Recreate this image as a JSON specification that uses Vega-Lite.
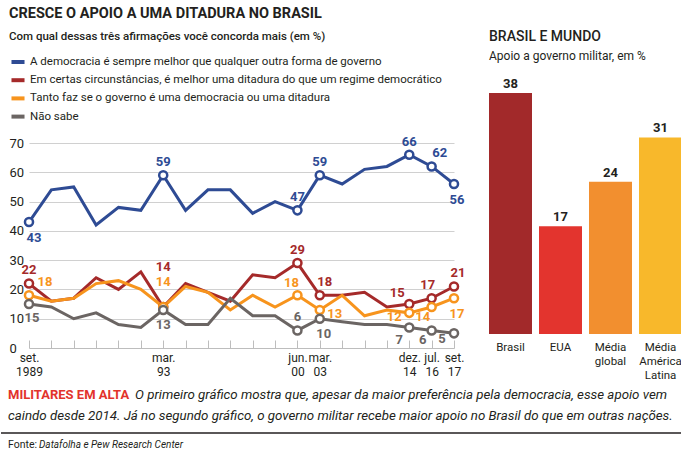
{
  "$schema": "https://vega.github.io/schema/vega-lite/v6.json",
  "background": "white",
  "padding": {"left": 0, "top": 6, "right": 0, "bottom": 0},
  "config": {
    "view": {"stroke": null},
    "font": "Roboto",
    "text": {"font": "Roboto"}
  },
  "spacing": 0,
  "vconcat": [
    {
      "spacing": 23,
      "resolve": {"scale": {"color": "independent"}, "legend": {"color": "independent"}},
      "hconcat": [
        {
          "width": 425,
          "height": 205,
          "title": {
            "text": "CRESCE O APOIO A UMA DITADURA NO BRASIL",
            "subtitle": "Com qual dessas três afirmações você concorda mais (em %)",
            "anchor": "start",
            "font": "Roboto",
            "fontSize": 14.5,
            "fontWeight": "bold",
            "color": "#231f20",
            "subtitleFont": "Roboto",
            "subtitleFontSize": 11.5,
            "subtitleFontWeight": 500,
            "subtitleColor": "#231f20",
            "subtitlePadding": 9,
            "offset": 10
          },
          "data": {
            "values": [
              {"i": 0, "dem": 43, "dit": 22, "tf": 18, "ns": 15},
              {"i": 1, "dem": 54, "dit": 16, "tf": 16, "ns": 14},
              {"i": 2, "dem": 55, "dit": 17, "tf": 17, "ns": 10},
              {"i": 3, "dem": 42, "dit": 24, "tf": 22, "ns": 12},
              {"i": 4, "dem": 48, "dit": 20, "tf": 23, "ns": 8},
              {"i": 5, "dem": 47, "dit": 26, "tf": 20, "ns": 7},
              {"i": 6, "dem": 59, "dit": 14, "tf": 14, "ns": 13},
              {"i": 7, "dem": 47, "dit": 22, "tf": 21, "ns": 8},
              {"i": 8, "dem": 54, "dit": 19, "tf": 19, "ns": 8},
              {"i": 9, "dem": 54, "dit": 16, "tf": 13, "ns": 17},
              {"i": 10, "dem": 46, "dit": 25, "tf": 18, "ns": 11},
              {"i": 11, "dem": 50, "dit": 24, "tf": 14, "ns": 11},
              {"i": 12, "dem": 47, "dit": 29, "tf": 18, "ns": 6},
              {"i": 13, "dem": 59, "dit": 18, "tf": 13, "ns": 10},
              {"i": 14, "dem": 56, "dit": 18, "tf": 18, "ns": 9},
              {"i": 15, "dem": 61, "dit": 19, "tf": 11, "ns": 8},
              {"i": 16, "dem": 62, "dit": 14, "tf": 13, "ns": 8},
              {"i": 17, "dem": 66, "dit": 15, "tf": 12, "ns": 7},
              {"i": 18, "dem": 62, "dit": 17, "tf": 14, "ns": 6},
              {"i": 19, "dem": 56, "dit": 21, "tf": 17, "ns": 5}
            ]
          },
          "transform": [{"fold": ["dem", "dit", "tf", "ns"], "as": ["s", "v"]}],
          "encoding": {
            "x": {
              "field": "i",
              "type": "ordinal",
              "scale": {"type": "point", "padding": 0},
              "axis": {
                "title": null,
                "labelExpr": "datum.value == 0 ? ['set.','1989'] : datum.value == 6 ? ['mar.','93'] : datum.value == 12 ? ['jun.','00'] : datum.value == 13 ? ['mar.','03'] : datum.value == 17 ? ['dez.','14'] : datum.value == 18 ? ['jul.','16'] : datum.value == 19 ? ['set.','17'] : ''",
                "labelAngle": 0,
                "labelFontSize": 12,
                "labelColor": "#231f20",
                "labelLineHeight": 14,
                "labelOverlap": false,
                "labelPadding": 12,
                "tickSize": -8,
                "tickColor": "#bdbdbd",
                "domainColor": "#bdbdbd",
                "grid": false
              }
            },
            "y": {
              "field": "v",
              "type": "quantitative",
              "scale": {"domain": [0, 70]},
              "axis": {
                "title": null,
                "values": [0, 10, 20, 30, 40, 50, 60, 70],
                "labelFontSize": 13,
                "labelColor": "#231f20",
                "labelAlign": "left",
                "labelPadding": 20,
                "ticks": false,
                "domain": false,
                "gridColor": "#d0d0d0",
                "gridOpacity": {"condition": {"test": "datum.value == 0", "value": 0}, "value": 1}
              }
            },
            "color": {
              "field": "s",
              "type": "nominal",
              "scale": {
                "domain": ["dem", "dit", "tf", "ns"],
                "range": ["#2e4b94", "#a52a2a", "#f7941d", "#6b6563"]
              },
              "legend": {
                "orient": "none",
                "legendX": -20,
                "legendY": -90,
                "direction": "vertical",
                "title": null,
                "padding": 0,
                "symbolType": "stroke",
                "symbolStrokeWidth": 4,
                "symbolSize": 170,
                "labelFont": "Roboto",
                "labelFontSize": 11.5,
                "labelColor": "#231f20",
                "labelOffset": 3,
                "labelLimit": 500,
                "rowPadding": 1.2,
                "labelExpr": "datum.value == 'dem' ? 'A democracia é sempre melhor que qualquer outra forma de governo' : datum.value == 'dit' ? 'Em certas circunstâncias, é melhor uma ditadura do que um regime democrático' : datum.value == 'tf' ? 'Tanto faz se o governo é uma democracia ou uma ditadura' : 'Não sabe'"
              }
            }
          },
          "layer": [
            {"mark": {"type": "line", "strokeWidth": 3}},
            {
              "transform": [{"filter": "indexof([0,6,12,13,17,18,19], datum.i) >= 0"}],
              "mark": {"type": "point", "filled": false, "fill": "white", "fillOpacity": 1, "opacity": 1, "strokeWidth": 2.5, "size": 65}
            },
            {
              "transform": [{"filter": "datum.s == 'dem' && indexof([0,6,12,13,17,18,19], datum.i) >= 0"}],
              "mark": {"type": "text", "fontWeight": "bold", "fontSize": 13, "baseline": "middle", "align": "center",
                "dx": {"expr": "datum.i == 0 ? 5 : datum.i == 18 ? 8 : datum.i == 19 ? 3 : 0"},
                "dy": {"expr": "datum.i == 0 ? 16 : datum.i == 19 ? 16 : -13"}},
              "encoding": {"text": {"field": "v", "type": "quantitative"}}
            },
            {
              "transform": [{"filter": "datum.s == 'dit' && indexof([0,6,12,13,17,18,19], datum.i) >= 0"}],
              "mark": {"type": "text", "fontWeight": "bold", "fontSize": 13, "baseline": "middle", "align": "center",
                "dx": {"expr": "datum.i == 13 ? 5 : datum.i == 17 ? -12 : datum.i == 18 ? -4 : datum.i == 19 ? 4 : 0"},
                "dy": {"expr": "datum.i == 6 ? -40 : datum.i == 17 ? -11 : datum.i == 0 ? -14 : datum.i == 19 ? -14 : -13"}},
              "encoding": {"text": {"field": "v", "type": "quantitative"}}
            },
            {
              "transform": [{"filter": "datum.s == 'tf' && indexof([0,6,12,13,17,18,19], datum.i) >= 0"}],
              "mark": {"type": "text", "fontWeight": "bold", "fontSize": 13, "baseline": "middle", "align": "center",
                "dx": {"expr": "datum.i == 0 ? 16 : datum.i == 12 ? -6 : datum.i == 13 ? 15 : datum.i == 17 ? -15 : datum.i == 18 ? -9 : datum.i == 19 ? 3 : 0"},
                "dy": {"expr": "datum.i == 0 ? -13 : datum.i == 6 ? -25 : datum.i == 12 ? -12 : datum.i == 13 ? 4 : datum.i == 17 ? 4 : datum.i == 18 ? 10 : datum.i == 19 ? 16 : 0"}},
              "encoding": {"text": {"field": "v", "type": "quantitative"}}
            },
            {
              "transform": [{"filter": "datum.s == 'ns' && indexof([0,6,12,13,17,18,19], datum.i) >= 0"}],
              "mark": {"type": "text", "fontWeight": "bold", "fontSize": 13, "baseline": "middle", "align": "center",
                "dx": {"expr": "datum.i == 0 ? 3 : datum.i == 13 ? 4 : datum.i == 17 ? -10 : datum.i == 18 ? -9 : datum.i == 19 ? -12 : 0"},
                "dy": {"expr": "datum.i == 12 ? -13 : datum.i == 6 ? 15 : datum.i == 13 ? 15 : datum.i == 17 ? 12 : datum.i == 18 ? 10 : datum.i == 19 ? 6 : 14"}},
              "encoding": {"text": {"field": "v", "type": "quantitative"}}
            }
          ]
        },
        {
          "width": 193,
          "height": 191,
          "title": {
            "text": "BRASIL E MUNDO",
            "subtitle": "Apoio a governo militar, em %",
            "anchor": "start",
            "font": "Roboto",
            "fontSize": 14,
            "fontWeight": 500,
            "color": "#231f20",
            "subtitleFont": "Roboto",
            "subtitleFontSize": 12,
            "subtitleColor": "#231f20",
            "subtitlePadding": 7,
            "offset": 16
          },
          "data": {
            "values": [
              {"pais": "Brasil", "v": 38},
              {"pais": "EUA", "v": 17},
              {"pais": "Média global", "v": 24},
              {"pais": "Média América Latina", "v": 31}
            ]
          },
          "encoding": {
            "x": {
              "field": "pais",
              "type": "nominal",
              "sort": null,
              "scale": {"paddingInner": 0.14, "paddingOuter": 0},
              "axis": {
                "title": null,
                "labelAngle": 0,
                "labelExpr": "datum.value == 'Média global' ? ['Média','global'] : datum.value == 'Média América Latina' ? ['Média','América','Latina'] : datum.value",
                "labelFontSize": 11.5,
                "labelColor": "#231f20",
                "labelLineHeight": 14,
                "labelPadding": 7,
                "ticks": false,
                "domain": false
              }
            },
            "y": {"field": "v", "type": "quantitative", "scale": {"domain": [0, 38], "range": [191, -50]}, "axis": null}
          },
          "layer": [
            {
              "mark": {"type": "bar"},
              "encoding": {
                "color": {
                  "field": "pais",
                  "type": "nominal",
                  "scale": {
                    "domain": ["Brasil", "EUA", "Média global", "Média América Latina"],
                    "range": ["#a2292a", "#e3342e", "#f28f2f", "#f8b82b"]
                  },
                  "legend": null
                }
              }
            },
            {
              "mark": {"type": "text", "fontWeight": "bold", "fontSize": 13, "dy": -9, "baseline": "middle", "color": "#231f20"},
              "encoding": {"text": {"field": "v", "type": "quantitative"}}
            }
          ]
        }
      ]
    },
    {
      "width": 653,
      "height": 66,
      "layer": [
        {
          "data": {"values": [{"t": "MILITARES EM ALTA"}]},
          "mark": {"type": "text", "x": -21, "y": 14, "align": "left", "baseline": "middle", "fontWeight": "bold", "fontSize": 13, "color": "#e2332b"},
          "encoding": {"text": {"field": "t"}}
        },
        {
          "data": {"values": [{"t": "O primeiro gráfico mostra que, apesar da maior preferência pela democracia, esse apoio vem"}]},
          "mark": {"type": "text", "x": 106, "y": 14, "align": "left", "baseline": "middle", "fontStyle": "italic", "fontSize": 13.3, "color": "#231f20"},
          "encoding": {"text": {"field": "t"}}
        },
        {
          "data": {"values": [{"t": "caindo desde 2014. Já no segundo gráfico, o governo militar recebe maior apoio no Brasil do que em outras nações."}]},
          "mark": {"type": "text", "x": -21, "y": 35, "align": "left", "baseline": "middle", "fontStyle": "italic", "fontSize": 13.3, "color": "#231f20"},
          "encoding": {"text": {"field": "t"}}
        },
        {
          "data": {"values": [{}]},
          "mark": {"type": "rule", "strokeWidth": 1.5, "color": "#231f20"},
          "encoding": {"x": {"value": -28}, "x2": {"value": 653}, "y": {"value": 52}}
        },
        {
          "data": {"values": [{"t": "Fonte:"}]},
          "mark": {"type": "text", "x": -21, "y": 64, "align": "left", "baseline": "middle", "fontSize": 10.5, "color": "#231f20"},
          "encoding": {"text": {"field": "t"}}
        },
        {
          "data": {"values": [{"t": "Datafolha e Pew Research Center"}]},
          "mark": {"type": "text", "x": 10, "y": 64, "align": "left", "baseline": "middle", "fontStyle": "italic", "fontSize": 10, "color": "#231f20"},
          "encoding": {"text": {"field": "t"}}
        }
      ]
    }
  ]
}
